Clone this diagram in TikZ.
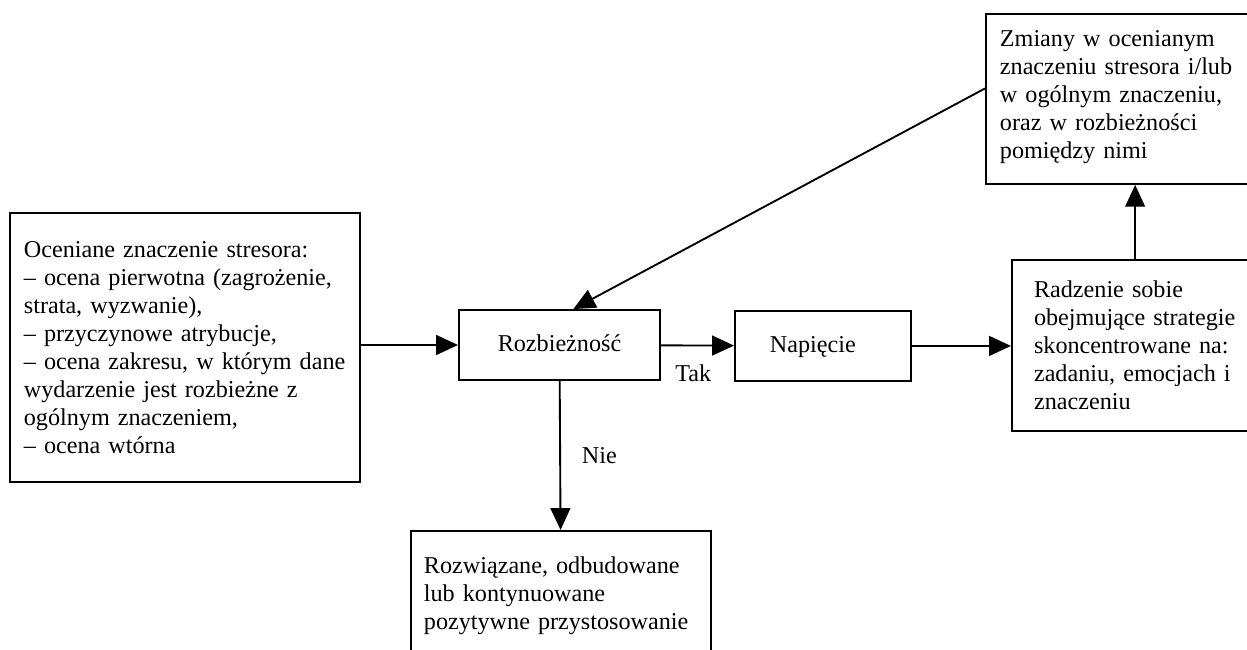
\documentclass[tikz,border=0pt]{standalone}
\usepackage{fontspec}
\setmainfont{Liberation Serif}
\usetikzlibrary{arrows.meta, positioning}

\begin{document}
\begin{tikzpicture}[x=0.48pt, y=-0.48pt,
        every node/.style={font=\fontsize{11.6pt}{13.4pt}\selectfont},
        ramka/.style={draw, line width=0.9pt, anchor=north west, align=left, inner ysep=0pt},
        krotka/.style={text height=8.4pt, text depth=2.5pt},
        pil/.style={line width=0.9pt, -{Triangle[length=10.5pt, width=9.5pt]}},
        opis/.style={inner sep=0pt}]
    \useasboundingbox (0,0) rectangle (1247,650);

        \node[ramka, minimum width=168pt, minimum height=129.1pt, inner xsep=6.7pt, text width=154.6pt] (ocena) at (9,212)
            {Oceniane znaczenie stresora:\\ – ocena pierwotna (zagrożenie,\\ strata, wyzwanie),\\ – przyczynowe atrybucje,\\ \mbox{– ocena zakresu, w którym dane}\\ wydarzenie jest rozbieżne z\\ ogólnym znaczeniem,\\ – ocena wtórna};
        \node[ramka, krotka, anchor=center, align=center, minimum width=96.5pt, minimum height=33.6pt] (rozb) at (559.5,345) {Rozbieżność};
        \node[ramka, krotka, minimum width=84.5pt, minimum height=33.6pt, inner xsep=16.8pt, text width=50.9pt] (napiecie) at (734,310) {Napięcie};
        \node[ramka, minimum height=62.4pt, inner xsep=6.24pt, text width=131.5pt] (rozw) at (410,530)
            {Rozwiązane, odbudowane\\ lub kontynuowane\\ \mbox{pozytywne przystosowanie}};
        \node[ramka, minimum height=81.6pt, inner xsep=6.72pt, text width=129.6pt, text depth=58pt] (zmiany) at (985,13)
            {Zmiany w ocenianym\\ znaczeniu stresora i/lub\\ w ogólnym znaczeniu,\\ oraz w rozbieżności\\ pomiędzy nimi};
        \node[ramka, minimum height=82.1pt, inner xsep=10.6pt, text width=113.2pt] (radzenie) at (1011,259)
            {Radzenie sobie\\ obejmujące strategie\\ skoncentrowane na:\\ zadaniu, emocjach i\\ znaczeniu};

        \draw[pil] (ocena.east |- rozb) -- (rozb);
        \draw[pil] (rozb) -- node[opis, midway, below=9pt, xshift=-2pt] (tak) {Tak} (napiecie);
        \draw[pil] (napiecie) -- (napiecie -| radzenie.west);
        \draw[pil] (rozb) -- node[opis, midway, right=10pt] (nie) {Nie} (rozw);
        \draw[pil] (radzenie.101) -- (radzenie.101 |- zmiany.south);
        \draw[pil] (zmiany.176) -- (rozb.69);
    \end{tikzpicture}
\end{document}
